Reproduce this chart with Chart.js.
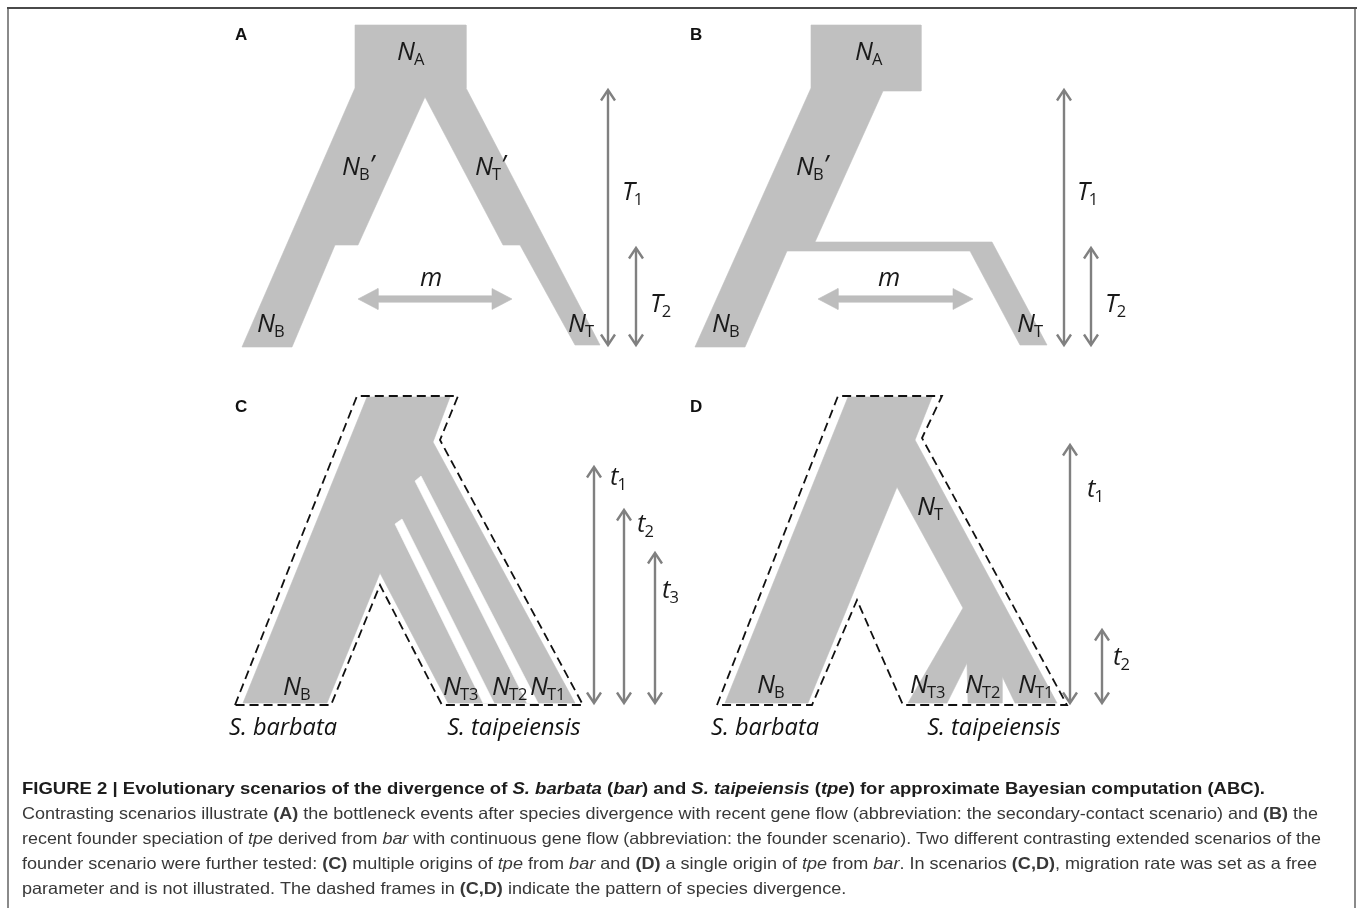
<!DOCTYPE html>
<html>
<head>
<meta charset="utf-8">
<title>Divergence scenarios</title>
<script src="https://cdn.jsdelivr.net/npm/chart.js@4.4.1/dist/chart.umd.min.js"></script>
<style>
  html, body { margin: 0; padding: 0; background: #ffffff; }
  #wrap { position: relative; width: 1358px; height: 908px; overflow: hidden; }
  canvas { display: block; }
</style>
</head>
<body>
<div id="wrap"><canvas id="fig" width="1358" height="908"></canvas></div>
<script>
// ---------- scenario geometry (diagram units: x to the right, y downward = towards present) ----------

// (A) secondary-contact scenario: ancestral block, two bottlenecked branches
const shapeA = [[355,25],[466,25],[466,88],[600,345],[575,345],[520,245],[503,245],[425,97],
                [358,245],[335,245],[292,347],[242,347],[355,88]];
// (B) founder scenario: bar lineage with a side branch founding tpe
const shapeB = [[811,25],[921,25],[921,91],[883,91],[815,242],[992,242],[1047,345],[1020,345],
                [970,251],[787,251],[745,347],[695,347],[811,88]];
// (C) multiple origins of tpe from bar
const shapeC = [[367,397],[450,397],[433,442],[575,703],[448,703],[380,573],[327,703],[243,703]];
const gapC1  = [[395,524],[402,519],[494,703],[483,703]];
const gapC2  = [[415,481],[421,476],[538,703],[527,703]];
const frameC = [[235,705],[357,396],[458,396],[440,440],[583,705],[442,705],[380,585],[331,705]];
// (D) single origin of tpe from bar, later split in three
const shapeD = [[848,397],[932,397],[915,440],[1057,703],[1015,703],[1002,676],[1002,703],[968,703],
                [967,663],[947,703],[908,703],[963,608],[897,487],[808,703],[725,703]];
const frameD = [[717,705],[838,396],[942,396],[922,438],[1067,705],[903,705],[857,600],[812,705]];

// time spans (x, start, end)
const timeArrows = [
  [608, 90, 345], [636, 248, 345],              // T1, T2 in A
  [1064, 90, 345], [1091, 248, 345],            // T1, T2 in B
  [594, 467, 703], [624, 510, 703], [655, 553, 703], // t1, t2, t3 in C
  [1070, 445, 703], [1102, 630, 703]            // t1, t2 in D
];
// migration arrows (x from, x to, y)
const migrationArrows = [[358, 512, 299], [818, 973, 299]];

// parameter labels: symbol, subscript, prime
const paramSymbols = ['N','N','N','N','N','m','T','T',
                      'N','N','N','N','m','T','T',
                      'N','N','N','N','t','t','t',
                      'N','N','N','N','N','t','t'];
const paramSubs    = ['A','B','T','B','T','','1','2',
                      'A','B','B','T','','1','2',
                      'B','T3','T2','T1','1','2','3',
                      'T','B','T3','T2','T1','1','2'];
const paramPrimes  = [false,true,true,false,false,false,false,false,
                      false,true,false,false,false,false,false,
                      false,false,false,false,false,false,false,
                      false,false,false,false,false,false,false];
const paramAnchors = [[397,60],[342,175],[475,175],[257,332],[568,332],[420,286],[622,200],[650,312],
                      [855,60],[796,175],[712,332],[1017,332],[878,286],[1077,200],[1105,312],
                      [283,695],[443,695],[492,695],[530,695],[610,485],[637,532],[662,598],
                      [917,515],[757,693],[910,693],[965,693],[1018,693],[1087,497],[1113,665]];

const panelLetters = ['A','B','C','D'];
const panelAnchors = [[235,40],[690,40],[235,412],[690,412]];

const speciesNames   = ['S. barbata','S. taipeiensis','S. barbata','S. taipeiensis'];
const speciesAnchors = [[283,735],[514,735],[765,735],[994,735]];

// caption: runs of [style, text]; b = bold, i = italic
const captionTitle = [
  ['b','FIGURE 2 | Evolutionary scenarios of the divergence of '],['bi','S. barbata'],['b',' ('],['bi','bar'],
  ['b',') and '],['bi','S. taipeiensis'],['b',' ('],['bi','tpe'],['b',') for approximate Bayesian computation (ABC).']
];
const captionBody = [
  [['','Contrasting scenarios illustrate '],['b','(A)'],['',' the bottleneck events after species divergence with recent gene flow (abbreviation: the secondary-contact scenario) and '],['b','(B)'],['',' the']],
  [['','recent founder speciation of '],['i','tpe'],['',' derived from '],['i','bar'],['',' with continuous gene flow (abbreviation: the founder scenario). Two different contrasting extended scenarios of the']],
  [['','founder scenario were further tested: '],['b','(C)'],['',' multiple origins of '],['i','tpe'],['',' from '],['i','bar'],['',' and '],['b','(D)'],['',' a single origin of '],['i','tpe'],['',' from '],['i','bar'],['','. In scenarios '],['b','(C,D)'],['',', migration rate was set as a free']],
  [['','parameter and is not illustrated. The dashed frames in '],['b','(C,D)'],['',' indicate the pattern of species divergence.']]
];

// ---------- styles ----------
const GREY_FILL = '#c0c0c0';
const ARROW_GREY = '#808080';
const MIGRATION_GREY = '#bdbdbd';
const LABEL_FONT = '"Open Sans", "Noto Sans", sans-serif';
const CAPTION_FONT = '"Liberation Sans", Arial, sans-serif';
// right ends of the wrapped caption lines
const CAPTION_LEFT = 22;
const TITLE_RIGHT = 1265;
const BODY_RIGHTS = [1318, 1321, 1317, null];

// ---------- dataset builders ----------
const toPts = arr => arr.map(([x, y]) => ({ x, y }));
const closeRing = arr => toPts(arr.concat([arr[0]]));

function polygonSet(verts, color, order) {
  return { data: closeRing(verts), showLine: true, fill: 'shape', backgroundColor: color,
           borderColor: color, borderWidth: 0.6, pointRadius: 0, order };
}
function outlineSet(verts) {
  return { data: closeRing(verts), showLine: true, fill: false, borderColor: '#111111',
           borderWidth: 1.8, borderDash: [9, 5], pointRadius: 0, order: 3 };
}
function strokeSet(pts) {
  return { data: toPts(pts), showLine: true, fill: false, borderColor: ARROW_GREY, borderWidth: 2.4,
           borderJoinStyle: 'miter', borderCapStyle: 'butt', pointRadius: 0, order: 2 };
}
function timeArrowSets([x, y1, y2]) {
  const hw = 7, hl = 10.5;
  return [
    strokeSet([[x, y1 + 1], [x, y2 - 1]]),
    strokeSet([[x - hw, y1 + hl], [x, y1], [x + hw, y1 + hl]]),
    strokeSet([[x - hw, y2 - hl], [x, y2], [x + hw, y2 - hl]])
  ];
}
function migrationArrowSet([x1, x2, y]) {
  const h = 10.5, L = 20, t = 3.2;
  const verts = [[x1, y], [x1 + L, y - h], [x1 + L, y - t], [x2 - L, y - t], [x2 - L, y - h], [x2, y],
                 [x2 - L, y + h], [x2 - L, y + t], [x1 + L, y + t], [x1 + L, y + h]];
  return polygonSet(verts, MIGRATION_GREY, 2);
}

const datasets = [
  polygonSet(shapeA, GREY_FILL, 5),
  polygonSet(shapeB, GREY_FILL, 5),
  polygonSet(shapeC, GREY_FILL, 5),
  polygonSet(shapeD, GREY_FILL, 5),
  polygonSet(gapC1, '#ffffff', 4),
  polygonSet(gapC2, '#ffffff', 4),
  outlineSet(frameC),
  outlineSet(frameD),
  ...migrationArrows.map(migrationArrowSet),
  ...timeArrows.flatMap(timeArrowSets)
];

// ---------- text drawn through the scales ----------
function fontFor(style, size, family) {
  return (style.includes('i') ? 'italic ' : '') + (style.includes('b') ? 'bold ' : '') + size + 'px ' + family;
}
function runsWidth(ctx, runs, size) {
  let w = 0;
  runs.forEach(([st, t]) => { ctx.font = fontFor(st, size, CAPTION_FONT); w += ctx.measureText(t).width; });
  return w;
}
function drawRuns(ctx, runs, x, y, size, sx) {
  ctx.save();
  ctx.translate(x, y);
  ctx.scale(sx, 1);
  let cx = 0;
  runs.forEach(([st, t]) => {
    ctx.font = fontFor(st, size, CAPTION_FONT);
    ctx.fillText(t, cx, 0);
    cx += ctx.measureText(t).width;
  });
  ctx.restore();
}

const textPlugin = {
  id: 'figureText',
  afterDatasetsDraw(chart) {
    const { ctx } = chart;
    const X = v => chart.scales.x.getPixelForValue(v);
    const Y = v => chart.scales.y.getPixelForValue(v);
    ctx.save();
    ctx.textBaseline = 'alphabetic';

    // figure frame
    ctx.fillStyle = '#4a4a4a';
    ctx.fillRect(7, 7, 1350, 2);
    ctx.fillStyle = '#8a8a8a';
    ctx.fillRect(7, 9, 2, 899);
    ctx.fillRect(1354, 9, 2, 899);

    // panel letters
    ctx.fillStyle = '#111111';
    ctx.font = 'bold 17px "Liberation Sans", Arial, sans-serif';
    ctx.textAlign = 'left';
    panelLetters.forEach((L, i) => ctx.fillText(L, X(panelAnchors[i][0]), Y(panelAnchors[i][1])));

    // parameter labels
    paramSymbols.forEach((s, i) => {
      const px = X(paramAnchors[i][0]), py = Y(paramAnchors[i][1]);
      ctx.fillStyle = '#1a1a1a';
      ctx.font = 'italic 25.5px ' + LABEL_FONT;
      ctx.fillText(s, px, py);
      let w = ctx.measureText(s).width;
      const sub = paramSubs[i];
      if (sub) {
        ctx.font = '16.5px ' + LABEL_FONT;
        ctx.fillText(sub, px + w - 1, py + 5);
        w += ctx.measureText(sub).width - 1;
      }
      if (paramPrimes[i]) {
        ctx.font = 'italic 25.5px ' + LABEL_FONT;
        ctx.fillText('\u2019', px + w, py - 2);
      }
    });

    // species names
    ctx.font = 'italic 23.5px ' + LABEL_FONT;
    ctx.textAlign = 'center';
    ctx.fillStyle = '#111111';
    speciesNames.forEach((n, i) => ctx.fillText(n, X(speciesAnchors[i][0]), Y(speciesAnchors[i][1])));

    // caption
    ctx.textAlign = 'left';
    const size = 16.5;
    ctx.fillStyle = '#1c1c1c';
    const sxTitle = (TITLE_RIGHT - CAPTION_LEFT) / runsWidth(ctx, captionTitle, size);
    drawRuns(ctx, captionTitle, CAPTION_LEFT, 794, size, sxTitle);
    const sxRef = (BODY_RIGHTS[2] - CAPTION_LEFT) / runsWidth(ctx, captionBody[2], size);
    ctx.fillStyle = '#383838';
    captionBody.forEach((runs, k) => {
      const right = BODY_RIGHTS[k];
      const sx = right ? (right - CAPTION_LEFT) / runsWidth(ctx, runs, size) : sxRef;
      drawRuns(ctx, runs, CAPTION_LEFT, 819 + 25 * k, size, sx);
    });
    ctx.restore();
  }
};

new Chart(document.getElementById('fig'), {
  type: 'scatter',
  data: { datasets },
  options: {
    responsive: false,
    animation: false,
    devicePixelRatio: 1,
    events: [],
    layout: { padding: 0 },
    elements: { line: { tension: 0 }, point: { radius: 0 } },
    scales: {
      x: { type: 'linear', min: 0, max: 1358, display: false },
      y: { type: 'linear', min: 0, max: 908, reverse: true, display: false }
    },
    plugins: { legend: { display: false }, tooltip: { enabled: false } }
  },
  plugins: [textPlugin]
});
</script>
</body>
</html>
